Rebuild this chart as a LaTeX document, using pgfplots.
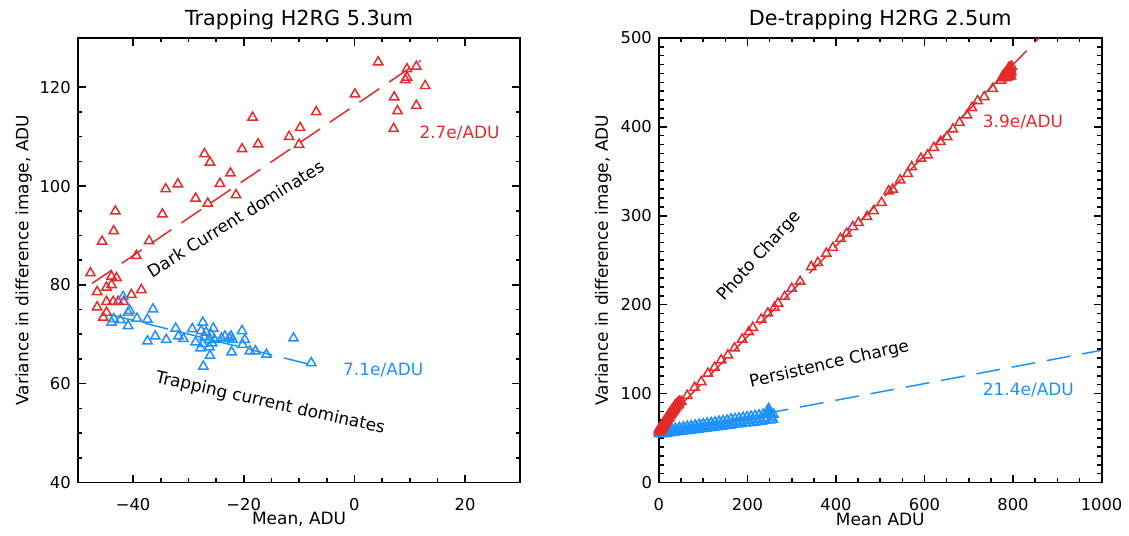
\documentclass[border=0pt]{standalone}
\usepackage{fontspec}
\setmainfont{DejaVu Sans}
\usepackage{pgfplots}
\pgfplotsset{compat=1.18}
\definecolor{myred}{RGB}{228,42,42}
\definecolor{myblue}{RGB}{30,144,255}
\begin{document}
\begin{tikzpicture}
\path (0pt,0pt) rectangle (564.5pt,268.5pt);
\pgfplotsset{
  myax/.style={
    anchor=south west, scale only axis, width=222pt, height=223pt,
    font=\fontsize{8.5}{10}\selectfont,
    tick label style={font=\fontsize{8.2}{10}\selectfont},
    /pgf/number format/assume math mode=true,
    /pgf/number format/1000 sep={},
    axis line style={line width=1pt},
    every tick/.style={black, line width=0.8pt},
    major tick length=4pt, minor tick length=2.3pt,
    tick align=inside, xtick pos=both, ytick pos=both,
    xticklabel style={yshift=-4.5pt},
    title style={at={(axis description cs:0.5,1.0136)}, anchor=center, font=\fontsize{10.4}{12}\selectfont},
    ylabel style={at={(axis description cs:-0.122,0.5)}, anchor=center},
    xlabel style={at={(axis description cs:0.5,-0.082)}, anchor=center},
    ylabel={Variance in difference image, ADU},
    clip=true,
  },
  rtri/.style={only marks, mark=triangle, mark size=2.7pt, color=myred, mark options={line width=0.75pt}},
  btri/.style={only marks, mark=triangle, mark size=2.7pt, color=myblue, mark options={line width=0.75pt}},
  fitline/.style={no marks, line width=0.75pt, dash pattern=on 12pt off 6pt},
}
\begin{axis}[myax, at={(39pt,26.5pt)},
  xmin=-50, xmax=30, ymin=40, ymax=130,
  xtick={-40,-20,0,20}, xticklabels={−40,−20,0,20}, minor x tick num=3,
  ytick={40,60,80,100,120}, minor y tick num=3,
  title={Trapping H2RG 5.3um}, xlabel={Mean, ADU}]
\addplot[fitline, myred] coordinates {(-47.4,80.3) (12.0,125.4)};
\addplot[fitline, myblue] coordinates {(-44.2,74.0) (-7.3,63.7)};
\addplot[rtri] table {
4.3 125.1
9.5 123.7
11.2 124.2
9.2 121.5
9.5 122.0
12.8 120.3
0.1 118.6
7.2 118.0
7.8 115.2
11.2 116.3
7.1 111.6
-6.9 115.0
-9.8 111.8
-11.8 110.0
-10.0 108.4
-18.4 113.9
-17.4 108.5
-20.3 107.5
-27.1 106.5
-26.1 104.8
-22.4 102.6
-24.3 100.5
-21.4 98.2
-26.5 96.5
-28.7 97.5
-31.9 100.4
-34.1 99.4
-34.7 94.3
-37.1 88.9
-39.4 85.9
-43.2 94.9
-43.5 90.9
-45.6 88.8
-47.7 82.4
-43.9 81.7
-43.0 81.4
-46.5 78.6
-44.8 79.5
-43.9 80.0
-38.5 79.0
-40.3 78.0
-46.5 75.5
-44.8 76.6
-43.6 76.6
-42.7 76.6
-41.7 76.6
-44.8 74.4
-45.4 73.4
};
\addplot[btri] table {
-41.8 77.6
-40.9 74.4
-40.6 74.8
-36.4 75.1
-43.5 73.1
-42.3 72.9
-43.9 72.4
-40.9 71.7
-39.3 73.2
-37.4 73.0
-37.4 68.6
-36.0 69.6
-34.0 68.9
-32.3 71.2
-31.8 69.6
-30.9 69.1
-29.3 71.1
-28.7 68.4
-27.4 72.4
-27.7 70.7
-26.8 70.4
-25.9 69.9
-27.1 69.4
-26.3 68.9
-27.4 68.1
-26.2 67.4
-25.5 71.2
-25.3 68.9
-25.7 68.2
-27.8 67.2
-26.1 65.7
-27.3 63.5
-24.0 69.2
-23.4 69.6
-22.6 69.2
-22.0 68.9
-22.3 69.6
-22.2 66.4
-20.3 70.7
-19.8 68.9
-20.2 67.9
-18.9 66.6
-17.9 66.6
-15.9 65.9
-11.0 69.2
-7.8 64.2
};
\node[rotate=32, anchor=center] at (axis cs:-21.4,93.4) {Dark Current dominates};
\node[rotate=-12.6, anchor=center] at (axis cs:-15.2,56.0) {Trapping current dominates};
\node[anchor=west, text=myred] at (axis cs:10.5,110.8) {2.7e/ADU};
\node[anchor=west, text=myblue] at (axis cs:-3.3,62.7) {7.1e/ADU};
\end{axis}
\begin{axis}[myax, at={(330.5pt,26.5pt)},
  xmin=0, xmax=1000, ymin=0, ymax=500,
  xtick={0,200,...,1000}, minor x tick num=3,
  ytick={0,100,...,500}, minor y tick num=9,
  ylabel style={at={(axis description cs:-0.126,0.5)}},
  title={De-trapping H2RG 2.5um}, xlabel={Mean ADU}]
\addplot[fitline, myblue] coordinates {(0,55) (1000,148.7)};
\addplot[fitline, myred] coordinates {(0,62) (859,500)};
\addplot[btri] table {
0 54.5
2 57.5
4 56
6 54.6
8 58.4
10 56.8
12 55
14 59
16 57
18 55.3
20 59.5
22 57.5
25 55.7
28 60
31 58
34 56.3
37 60.8
40 58.5
43 56.9
46 61.6
49 59.2
52 57.4
55 62.2
58 60
61 58
64 63
67 60.6
70 58.6
73 63.6
76 61.2
79 59.2
82 64.4
85 61.8
88 59.7
91 65.2
94 62.5
97 60.2
100 65.8
103 63
106 60.8
109 66.6
112 63.6
115 61.4
118 67.2
121 64.2
124 61.9
127 67.9
130 64.8
133 62.4
136 68.6
139 65.5
142 63
145 69.2
148 66
151 63.6
154 69.9
157 66.6
160 64.2
163 71.2
166 67.5
169 65
172 71.7
175 68
178 65.6
181 72.3
184 68.6
187 66.1
190 73
193 69.2
196 66.6
199 73.7
202 69.8
205 67.1
208 74.3
211 70.4
214 67.6
217 75.1
220 71
223 68.2
226 75.7
229 71.6
232 68.8
235 76.5
238 72.3
241 69.4
244 78.5
246 81
248 83
249 79
251 70.2
253 77.5
255 73.5
257 70.8
259 76.5
};
\addplot[rtri] table {
0 57
0 60
1 58
2 61
2 57.5
3 59
4 62
5 60
5 63
6 61
7 64
8 62
8 65
9 63
10 66
11 64
12 67
12 69
13 66
14 68
15 70
16 68
17 71
18 73
19 70
20 72
21 74
22 76
23 73
24 75
25 78
26 76
27 79
28 77
29 80
30 82
31 79
32 81
33 84
34 82
35 85
36 83
37 87
38 84
39 86
40 88
41 86
42 89
43 87
44 90
45 88
46 91
50.4 91
63.9 97.7
80.5 106.6
95.6 113.2
110.6 122.6
125.7 129.3
140.7 137.6
155.8 143.2
170.8 151.1
188 161
203 169.2
212 174.2
231 183.5
246 190.4
261 196.7
269 201.5
284 208.9
300 218.1
319 226
344 242.5
359 247.2
378 257.5
393 264
410 274.2
424 280
438 287.5
451 292.2
470 298.8
485 305.4
503 314.7
519 327.7
528 329.6
545 340
562 347.4
571 354.9
592 364.3
607 368.2
621 376.5
636 383.2
651 388.7
664 397.3
679 404.6
696 413
707 421.3
720 429.1
735 433.7
754 442.8
773 452.2
775 455
778 458
780 456
782 460
784 457
786 462
787 459
788 464
789 461
790 466
791 458
792 463
793 467
794 460
795 465
796 462
797 468
785 455
790 456
795 457
};
\node[rotate=47.7, anchor=center] at (axis cs:227,254.5) {Photo Charge};
\node[rotate=12.9, anchor=center] at (axis cs:385,132.8) {Persistence Charge};
\node[anchor=west, text=myred] at (axis cs:716,405.3) {3.9e/ADU};
\node[anchor=west, text=myblue] at (axis cs:716,104.5) {21.4e/ADU};
\end{axis}
\end{tikzpicture}
\end{document}
